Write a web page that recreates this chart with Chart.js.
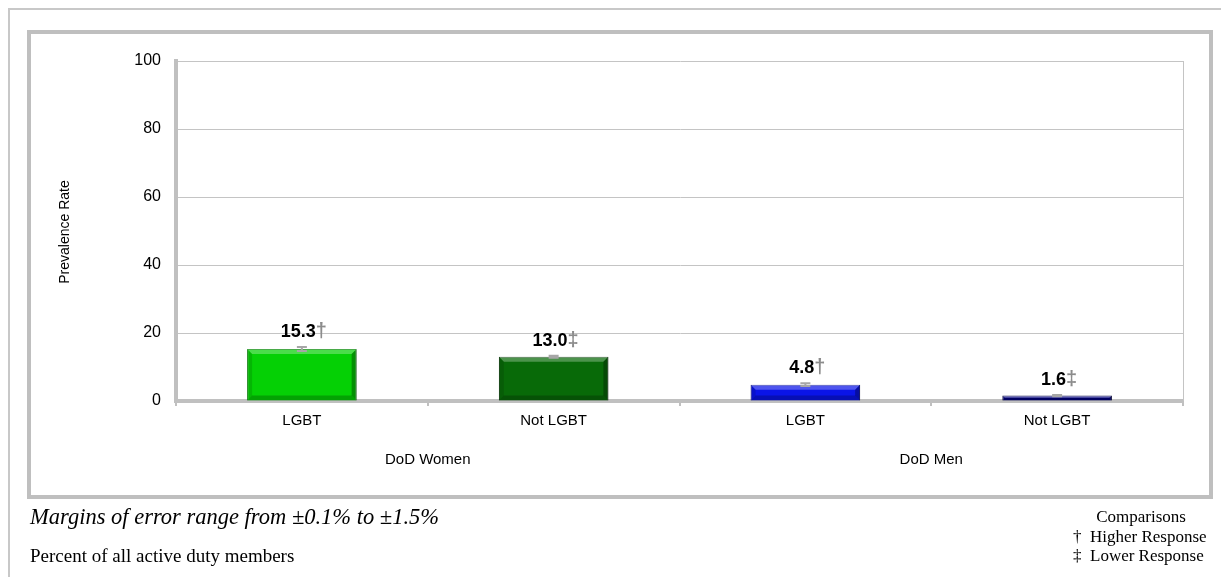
<!DOCTYPE html>
<html>
<head>
<meta charset="utf-8">
<script src="https://cdn.jsdelivr.net/npm/chart.js@4"></script>
<style>
  html, body { margin: 0; padding: 0; background: #fff; }
  #wrap { width: 1221px; height: 577px; position: relative; }
</style>
</head>
<body>
<div id="wrap"><canvas id="prevChart" width="1221" height="577"></canvas></div>
<script>
// data
const categories = ["LGBT", "Not LGBT", "LGBT", "Not LGBT"];
const groups = ["DoD Women", "DoD Men"];
const rates = [15.3, 13.0, 4.8, 1.6];
const margins = [0.6, 0.3, 0.4, 0.2];
const marks = ["†", "‡", "†", "‡"];
const barColors = ["#05d005", "#086a08", "#0a14e8", "#00007e"];
const edgeColors = ["#038a03", "#043a04", "#050c90", "#000040"];

// frames + footer text
const framePlugin = {
  id: "frames",
  beforeDraw(chart) {
    const ctx = chart.ctx;
    ctx.save();
    ctx.fillStyle = "#fff";
    ctx.fillRect(0, 0, chart.width, chart.height);
    ctx.strokeStyle = "#c8c8c8";
    ctx.lineWidth = 2;
    ctx.strokeRect(9, 9, 1230, 600);
    ctx.strokeStyle = "#bfbfbf";
    ctx.lineWidth = 4;
    ctx.strokeRect(29, 32, 1182, 465);

    // y title
    ctx.fillStyle = "#000";
    ctx.font = "14px 'Liberation Sans', Arial";
    ctx.textAlign = "center";
    ctx.textBaseline = "middle";
    ctx.translate(65, 232);
    ctx.rotate(-Math.PI / 2);
    ctx.fillText("Prevalence Rate", 0, 0);
    ctx.restore();
  },
  afterDraw(chart) {
    const ctx = chart.ctx;
    const a = chart.chartArea;
    ctx.save();
    // thin right edge of plot
    ctx.strokeStyle = "#c4c4c4";
    ctx.lineWidth = 1;
    ctx.beginPath();
    ctx.moveTo(a.right + 0.5, a.top);
    ctx.lineTo(a.right + 0.5, a.bottom);
    ctx.stroke();

    ctx.fillStyle = "#000";
    ctx.textBaseline = "middle";
    ctx.textAlign = "left";
    ctx.font = "italic 22.5px 'Liberation Serif', 'Times New Roman'";
    ctx.fillText("Margins of error range from ±0.1% to ±1.5%", 30, 518);
    ctx.font = "19px 'Liberation Serif', 'Times New Roman'";
    ctx.fillText("Percent of all active duty members", 30, 557);

    ctx.font = "17px 'Liberation Serif', 'Times New Roman'";
    ctx.textAlign = "center";
    ctx.fillText("Comparisons", 1141, 518);
    ctx.textAlign = "left";
    ctx.fillText("†  Higher Response", 1073, 538);
    ctx.fillText("‡  Lower Response", 1073, 557);
    ctx.restore();
  },
};

// bevel, error caps and value labels
const labelPlugin = {
  id: "valueLabels",
  afterDatasetsDraw(chart) {
    const ctx = chart.ctx;
    const meta = chart.getDatasetMeta(0);
    const y = chart.scales.y;
    ctx.save();
    meta.data.forEach((bar, i) => {
      const l = bar.x - bar.width / 2;
      const r = bar.x + bar.width / 2;
      const t = bar.y;
      const b = bar.base;
      const d = Math.min(5, (b - t) / 2);
      const band = (pts, col) => {
        ctx.fillStyle = col;
        ctx.beginPath();
        ctx.moveTo(pts[0][0], pts[0][1]);
        pts.slice(1).forEach((p) => ctx.lineTo(p[0], p[1]));
        ctx.closePath();
        ctx.fill();
      };
      band([[l, t], [r, t], [r - d, t + d], [l + d, t + d]], "rgba(255,255,255,0.28)");
      band([[l, b], [r, b], [r - d, b - d], [l + d, b - d]], "rgba(0,0,0,0.22)");
      band([[l, t], [l + d, t + d], [l + d, b - d], [l, b]], "rgba(0,0,0,0.12)");
      band([[r, t], [r - d, t + d], [r - d, b - d], [r, b]], "rgba(0,0,0,0.3)");

      const top = y.getPixelForValue(rates[i] + margins[i]);
      const bot = y.getPixelForValue(rates[i] - margins[i]);
      ctx.strokeStyle = "#a6a6a6";
      ctx.lineWidth = 2;
      ctx.beginPath();
      ctx.moveTo(bar.x - 5, top);
      ctx.lineTo(bar.x + 5, top);
      ctx.moveTo(bar.x, top);
      ctx.lineTo(bar.x, bot);
      ctx.moveTo(bar.x - 5, bot);
      ctx.lineTo(bar.x + 5, bot);
      ctx.stroke();

      const txt = rates[i].toFixed(1);
      ctx.font = "bold 18px 'Liberation Sans', Arial";
      const w1 = ctx.measureText(txt).width;
      ctx.font = "bold 20px 'Liberation Sans', Arial";
      const w2 = ctx.measureText(marks[i]).width;
      const x0 = bar.x - (w1 + w2) / 2 + 2;
      const by = top - 10;
      ctx.textAlign = "left";
      ctx.textBaseline = "alphabetic";
      ctx.fillStyle = "#000";
      ctx.font = "bold 18px 'Liberation Sans', Arial";
      ctx.fillText(txt, x0, by);
      ctx.fillStyle = "#8c8c8c";
      ctx.font = "bold 20px 'Liberation Sans', Arial";
      ctx.fillText(marks[i], x0 + w1, by);
    });
    ctx.restore();
  },
};

new Chart(document.getElementById("prevChart"), {
  type: "bar",
  data: {
    labels: categories,
    datasets: [
      {
        data: rates,
        backgroundColor: barColors,
        borderColor: edgeColors,
        borderWidth: 1,
        categoryPercentage: 1,
        barPercentage: 0.435,
      },
    ],
  },
  options: {
    responsive: false,
    animation: false,
    layout: {
      padding: { left: 58, right: 38, top: 61, bottom: 100 },
    },
    scales: {
      y: {
        min: 0,
        max: 100,
        ticks: {
          stepSize: 20,
          padding: 15,
          color: "#000",
          font: { family: "'Liberation Sans', Arial", size: 16 },
        },
        grid: { color: "#c4c4c4", lineWidth: 1, drawTicks: false },
        border: { color: "#c0c0c0", width: 4 },
        afterFit(s) {
          s.width = 118;
        },
      },
      x: {
        offset: true,
        ticks: {
          padding: 6,
          color: "#000",
          font: { family: "'Liberation Sans', Arial", size: 15 },
        },
        grid: {
          offset: true,
          drawOnChartArea: false,
          tickLength: 5,
          color: "#c0c0c0",
          lineWidth: 2,
        },
        border: { color: "#c0c0c0", width: 4 },
        afterFit(s) {
          s.height = 36;
        },
      },
      group: {
        type: "category",
        position: "bottom",
        labels: groups,
        offset: true,
        ticks: {
          padding: 14,
          color: "#000",
          font: { family: "'Liberation Sans', Arial", size: 15 },
        },
        grid: { display: false, drawTicks: false },
        border: { display: false },
        afterFit(s) {
          s.height = 40;
        },
      },
    },
    plugins: {
      legend: { display: false },
      tooltip: { enabled: false },
    },
  },
  plugins: [framePlugin, labelPlugin],
});
</script>
</body>
</html>
